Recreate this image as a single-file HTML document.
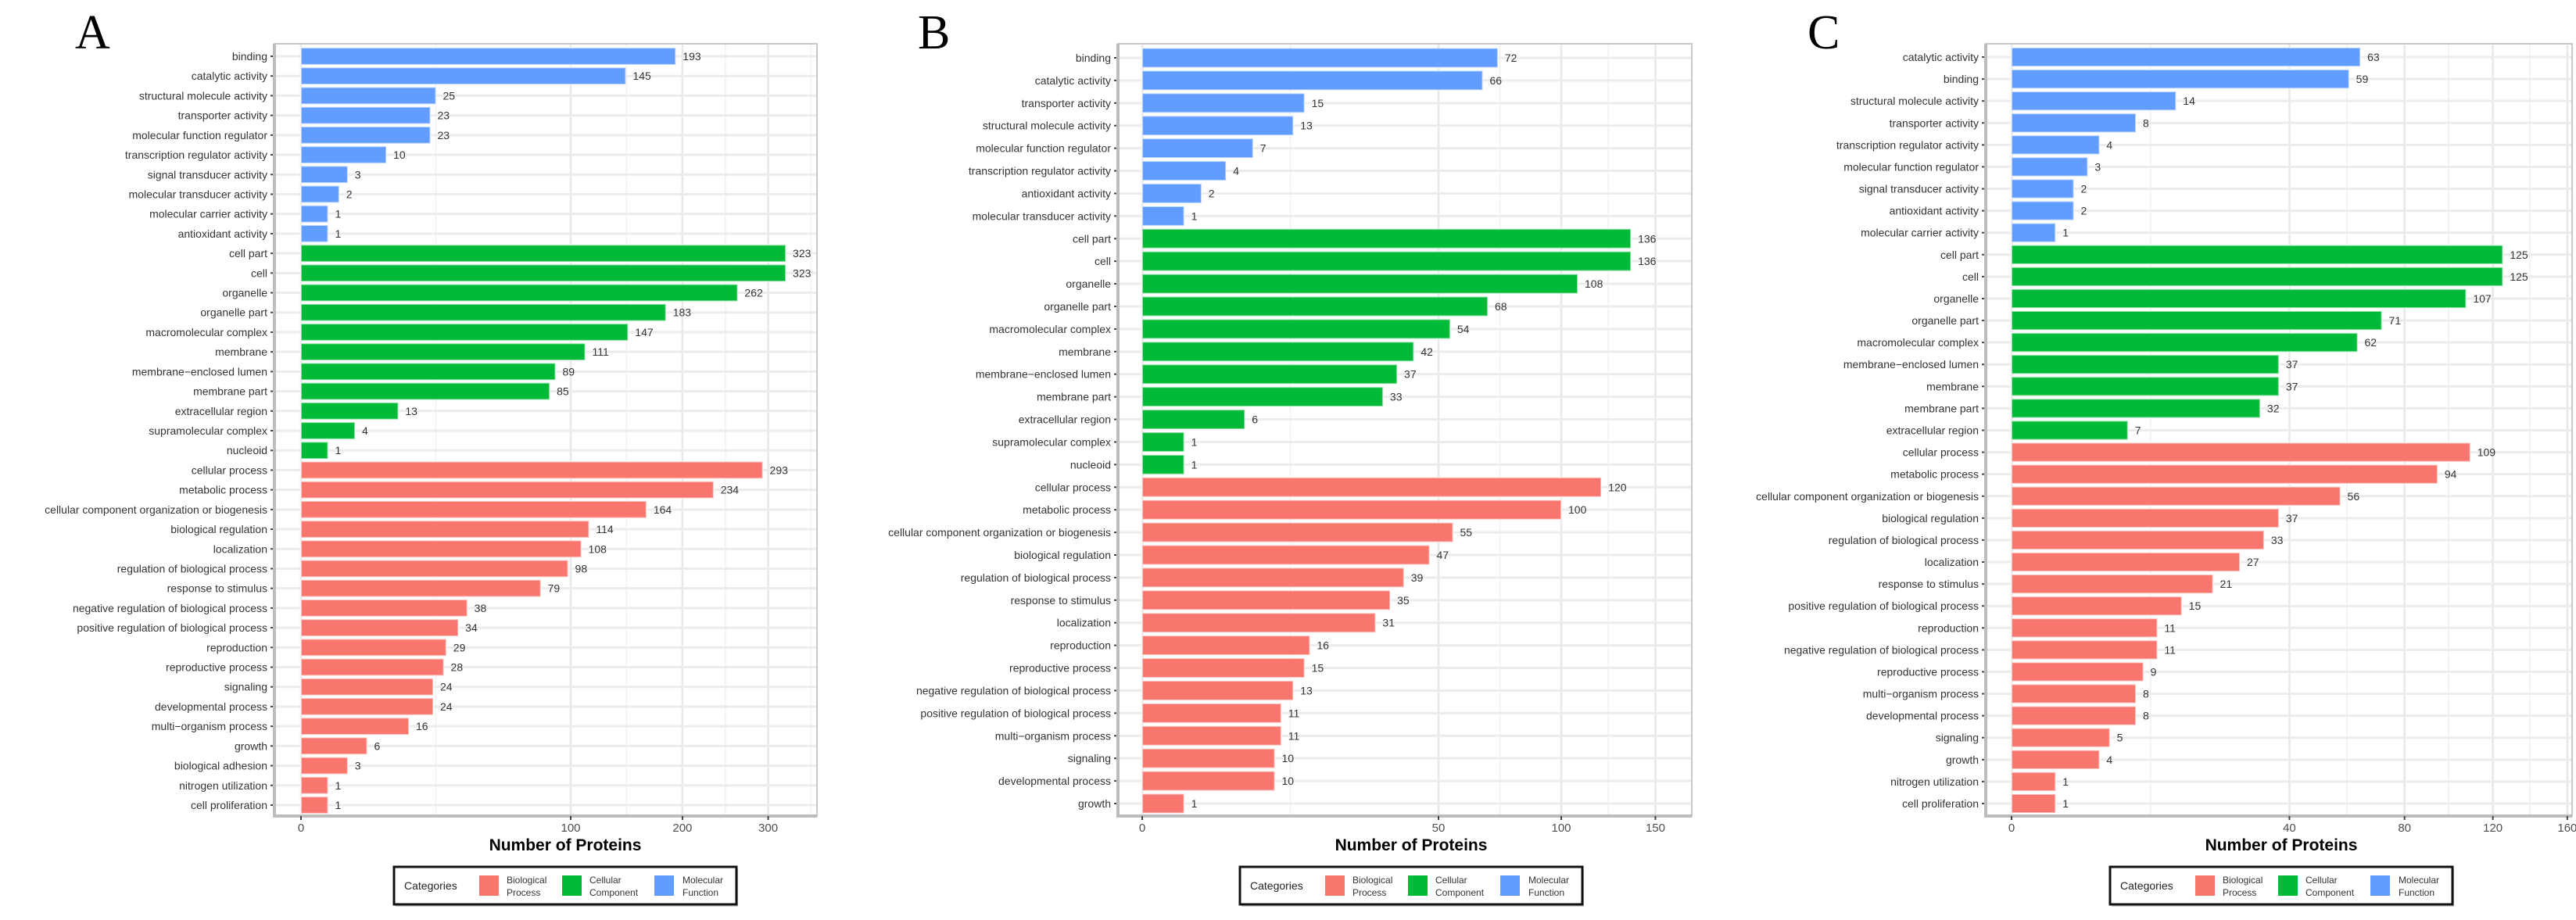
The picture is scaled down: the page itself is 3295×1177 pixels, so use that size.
<!DOCTYPE html>
<html><head><meta charset="utf-8"><style>
html,body{margin:0;padding:0;background:#fff;}
svg{display:block;font-family:"Liberation Sans",sans-serif;}
</style></head><body>
<svg id="fig" width="3295" height="1177" viewBox="0 0 3295 1177" xmlns="http://www.w3.org/2000/svg"></svg>
<script>
// ---- Panel A data ----
const catsA = ["binding","catalytic activity","structural molecule activity","transporter activity","molecular function regulator","transcription regulator activity","signal transducer activity","molecular transducer activity","molecular carrier activity","antioxidant activity","cell part","cell","organelle","organelle part","macromolecular complex","membrane","membrane\u2212enclosed lumen","membrane part","extracellular region","supramolecular complex","nucleoid","cellular process","metabolic process","cellular component organization or biogenesis","biological regulation","localization","regulation of biological process","response to stimulus","negative regulation of biological process","positive regulation of biological process","reproduction","reproductive process","signaling","developmental process","multi\u2212organism process","growth","biological adhesion","nitrogen utilization","cell proliferation"];
const valsA = [193,145,25,23,23,10,3,2,1,1,323,323,262,183,147,111,89,85,13,4,1,293,234,164,114,108,98,79,38,34,29,28,24,24,16,6,3,1,1];
const groupA = ["MF","MF","MF","MF","MF","MF","MF","MF","MF","MF","CC","CC","CC","CC","CC","CC","CC","CC","CC","CC","CC","BP","BP","BP","BP","BP","BP","BP","BP","BP","BP","BP","BP","BP","BP","BP","BP","BP","BP"];
const ticksA = [0,100,200,300];
// ---- Panel B data ----
const catsB = ["binding","catalytic activity","transporter activity","structural molecule activity","molecular function regulator","transcription regulator activity","antioxidant activity","molecular transducer activity","cell part","cell","organelle","organelle part","macromolecular complex","membrane","membrane\u2212enclosed lumen","membrane part","extracellular region","supramolecular complex","nucleoid","cellular process","metabolic process","cellular component organization or biogenesis","biological regulation","regulation of biological process","response to stimulus","localization","reproduction","reproductive process","negative regulation of biological process","positive regulation of biological process","multi\u2212organism process","signaling","developmental process","growth"];
const valsB = [72,66,15,13,7,4,2,1,136,136,108,68,54,42,37,33,6,1,1,120,100,55,47,39,35,31,16,15,13,11,11,10,10,1];
const groupB = ["MF","MF","MF","MF","MF","MF","MF","MF","CC","CC","CC","CC","CC","CC","CC","CC","CC","CC","CC","BP","BP","BP","BP","BP","BP","BP","BP","BP","BP","BP","BP","BP","BP","BP"];
const ticksB = [0,50,100,150];
// ---- Panel C data ----
const catsC = ["catalytic activity","binding","structural molecule activity","transporter activity","transcription regulator activity","molecular function regulator","signal transducer activity","antioxidant activity","molecular carrier activity","cell part","cell","organelle","organelle part","macromolecular complex","membrane\u2212enclosed lumen","membrane","membrane part","extracellular region","cellular process","metabolic process","cellular component organization or biogenesis","biological regulation","regulation of biological process","localization","response to stimulus","positive regulation of biological process","reproduction","negative regulation of biological process","reproductive process","multi\u2212organism process","developmental process","signaling","growth","nitrogen utilization","cell proliferation"];
const valsC = [63,59,14,8,4,3,2,2,1,125,125,107,71,62,37,37,32,7,109,94,56,37,33,27,21,15,11,11,9,8,8,5,4,1,1];
const groupC = ["MF","MF","MF","MF","MF","MF","MF","MF","MF","CC","CC","CC","CC","CC","CC","CC","CC","CC","BP","BP","BP","BP","BP","BP","BP","BP","BP","BP","BP","BP","BP","BP","BP","BP","BP"];
const ticksC = [0,40,80,120,160];

const COLORS = {BP:"#F8766D", CC:"#00BA38", MF:"#619CFF"};
const NS = "http://www.w3.org/2000/svg";
const svg = document.getElementById("fig");
function mk(tag, attrs, parent){ const e=document.createElementNS(NS,tag); for(const k in attrs) e.setAttribute(k,attrs[k]); (parent||svg).appendChild(e); return e; }

function panel(cfg, cats, vals, groups, ticks){
  const g = mk("g",{});
  
  
  const top=56, bottom=1044;
  const n=cats.length;
  const band=(cfg.lastY-cfg.firstY)/(n-1);
  const yPos = i => cfg.firstY + i*band;
  const xPos = v => cfg.zero + Math.sqrt(v)*cfg.k;
  const L = mk("text",{x:cfg.letterX,y:62,"font-family":"Liberation Serif, serif","font-size":62,fill:"#000"},g);
  L.textContent = cfg.letter;
  
  
  const sq = ticks.map(Math.sqrt); sq.push(Math.sqrt(ticks[ticks.length-1]) + (Math.sqrt(ticks[ticks.length-1])-Math.sqrt(ticks[ticks.length-2])));
  for(let i=0;i<sq.length-1;i++){
    const mx = cfg.zero + (sq[i]+sq[i+1])/2*cfg.k;
    if(mx<cfg.right) { const m=mk("line",{x1:mx,x2:mx,y1:top,y2:bottom,stroke:"#f0f0f0","stroke-width":1.5},g);
      
       }
  }
  ticks.forEach(t=>{ const x=xPos(t); if(x<cfg.right){ const m=mk("line",{x1:x,x2:x,y1:top,y2:bottom,stroke:"#e8e8e8","stroke-width":2.5},g);
      
       }});
  cats.forEach((c,i)=>{ const m=mk("line",{x1:cfg.left,x2:cfg.right,y1:yPos(i),y2:yPos(i),stroke:"#ececec","stroke-width":3},g);
      
       });
  cats.forEach((c,i)=>{
    const y=yPos(i), h=band*0.86, x1=xPos(vals[i]);
    const r=mk("rect",{x:cfg.zero,y:y-h/2,width:x1-cfg.zero,height:h,fill:COLORS[groups[i]],stroke:"rgba(255,255,255,0.55)","stroke-width":2},g);
    
    
    const vt=mk("text",{x:x1+9,y:y+5,"font-size":14,fill:"#333"},g);
    vt.textContent=vals[i];
    
    
    const lt=mk("text",{x:cfg.left-9,y:y+5,"font-size":14,fill:"#333","text-anchor":"end"},g);
    lt.textContent=c;
    
    
    const tk=mk("line",{x1:cfg.left-5,x2:cfg.left,y1:y,y2:y,stroke:"#444","stroke-width":2},g);
    
    
  });
  const b=mk("rect",{x:cfg.left,y:top,width:cfg.right-cfg.left,height:bottom-top,fill:"none",stroke:"#c8c8c8","stroke-width":2},g);
  
  
  const ax=mk("path",{d:`M${cfg.left},${top} V${bottom} H${cfg.right}`,fill:"none",stroke:"#bdbdbd","stroke-width":4},g);
  
  
  ticks.forEach(t=>{ const x=xPos(t);
    const tk=mk("line",{x1:x,x2:x,y1:bottom,y2:bottom+5,stroke:"#444","stroke-width":2},g);
    
    
    const tl=mk("text",{x:x,y:1064,"font-size":15,fill:"#4d4d4d","text-anchor":"middle"},g);
    tl.textContent=t;
    
    
  });
  const xt=mk("text",{x:cfg.legX+219,y:1088,"font-size":21,"font-weight":"bold",fill:"#000","text-anchor":"middle"},g);
  xt.textContent="Number of Proteins";
  
  
  const lg=mk("g",{},g);
  
  
  const lx=cfg.legX, ly=1109;
  mk("rect",{x:lx+2,y:ly+3,width:438,height:48,fill:"#d0d0d0"},lg);
  mk("rect",{x:lx,y:ly,width:438,height:48,fill:"#fff",stroke:"#111","stroke-width":3},lg);
  const lt=mk("text",{x:lx+13,y:ly+29,"font-size":14,fill:"#222"},lg); lt.textContent="Categories";
  
  
  const items=[["BP","Biological","Process",109,144],["CC","Cellular","Component",215,250],["MF","Molecular","Function",333,369]];
  items.forEach(it=>{
    const k=mk("rect",{x:lx+it[3],y:ly+11,width:25,height:26,fill:COLORS[it[0]]},lg);
    
    
    const t=mk("text",{x:lx+it[4],y:ly+21,"font-size":12,fill:"#333"},lg);
    
    
    const s1=mk("tspan",{x:lx+it[4],dy:0},t); s1.textContent=it[1];
    const s2=mk("tspan",{x:lx+it[4],dy:16},t); s2.textContent=it[2];
  });
}

panel({letter:"A",letterX:96,left:351,right:1045,zero:385,k:34.5,firstY:72,lastY:1030,legX:504}, catsA, valsA, groupA, ticksA);
panel({letter:"B",letterX:1174,left:1430,right:2164,zero:1461,k:53.6,firstY:74,lastY:1028,legX:1586}, catsB, valsB, groupB, ticksB);
panel({letter:"C",letterX:2312,left:2540,right:3290,zero:2573,k:56.2,firstY:73,lastY:1028,legX:2699}, catsC, valsC, groupC, ticksC);
</script>
</body></html>
